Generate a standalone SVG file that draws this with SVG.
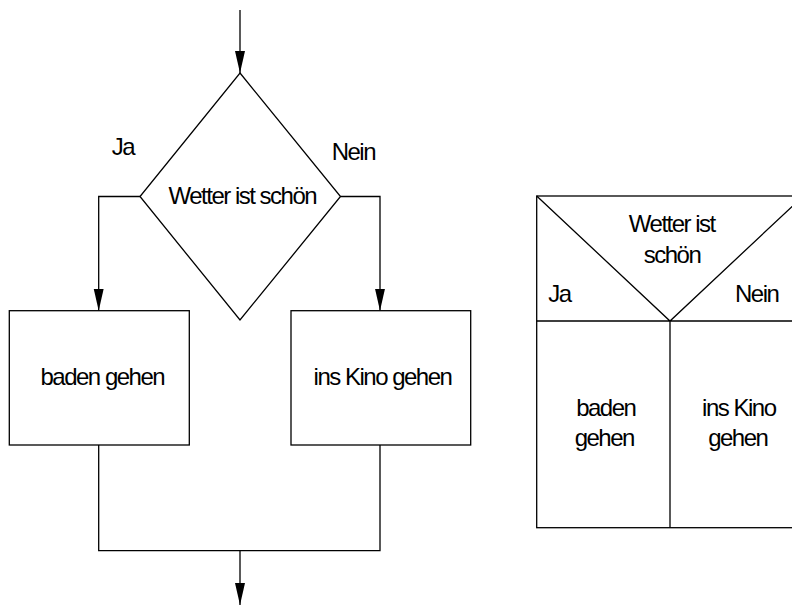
<svg xmlns="http://www.w3.org/2000/svg" width="792" height="606" viewBox="0 0 792 606">
<style>
  .shape { fill: #fff; stroke: #000; stroke-width: 1.3; }
  .line { fill: none; stroke: #000; stroke-width: 1.3; }
  text { font-family: "Liberation Sans", Arial, sans-serif; font-size: 24px; letter-spacing: -1.5px; fill: #000; }
  .c { text-anchor: middle; }
</style>
<defs>
  <marker id="arrow" markerUnits="userSpaceOnUse" markerWidth="22" markerHeight="12" viewBox="0 0 22 12" refX="22" refY="6" orient="auto">
    <path d="M0,1 L22,6 L0,11 Z" fill="#000"/>
  </marker>
</defs>
<rect width="792" height="606" fill="#fff"/>

<g id="connectors">
  <path class="line" d="M240,10 V73" marker-end="url(#arrow)"/>
  <path class="line" d="M140,196.5 H98.7 V310.7" marker-end="url(#arrow)"/>
  <path class="line" d="M340.5,196.5 H380 V310.7" marker-end="url(#arrow)"/>
  <path class="line" d="M98.7,445 V550.7 H380 V445"/>
  <path class="line" d="M240,550.7 V605" marker-end="url(#arrow)"/>
  <text x="111.7" y="155">Ja</text>
  <text x="331.7" y="160">Nein</text>
</g>

<g id="decision">
  <polygon class="shape" points="240,73 340.5,196.5 240,320 140,196.5"/>
  <text class="c" x="242.3" y="204.3">Wetter ist schön</text>
</g>

<g id="baden">
  <rect class="shape" x="9.3" y="310.7" width="180" height="134.3"/>
  <text class="c" x="102.3" y="384.5">baden gehen</text>
</g>

<g id="kino">
  <rect class="shape" x="291" y="310.7" width="179.7" height="134.3"/>
  <text class="c" x="382.5" y="385">ins Kino gehen</text>
</g>

<g id="struktogramm">
  <rect class="shape" x="536.7" y="196" width="266.6" height="331.7"/>
  <path class="line" d="M536.7,196 L670,321 L803.3,196 M536.7,321 H803.3 M670,321 V527.7"/>
  <text class="c" x="671.8" y="231.7">Wetter ist</text>
  <text class="c" x="672" y="262.7">schön</text>
  <text x="548.3" y="301.7">Ja</text>
  <text x="735" y="301.7">Nein</text>
  <text class="c" x="605.8" y="416">baden</text>
  <text class="c" x="604.3" y="446">gehen</text>
  <text class="c" x="738.8" y="416">ins Kino</text>
  <text class="c" x="737.8" y="446">gehen</text>
</g>
</svg>
